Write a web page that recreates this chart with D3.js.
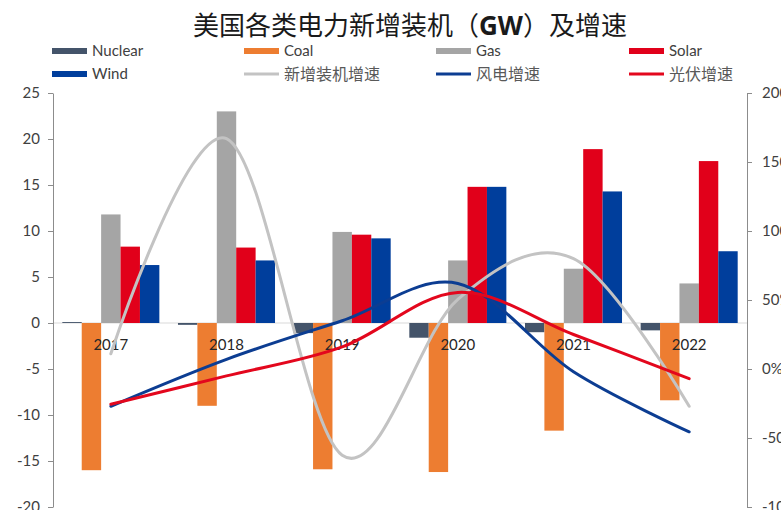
<!DOCTYPE html>
<html><head><meta charset="utf-8">
<script src="https://cdn.jsdelivr.net/npm/d3@7/dist/d3.min.js"></script>
<style>body{margin:0;background:#fff;overflow:hidden}</style>
</head><body>
<svg id="c" width="781" height="510"></svg>
<script>
const years = ["2017","2018","2019","2020","2021","2022"];
const barNames = ["Nuclear","Coal","Gas","Solar","Wind"];
const nuclear = [0.1,-0.2,-1.1,-1.6,-1.0,-0.8];
const coal = [-16.0,-9.0,-15.9,-16.2,-11.7,-8.4];
const gas = [11.8,23.0,9.9,6.8,5.9,4.3];
const solar = [8.3,8.2,9.6,14.8,18.9,17.6];
const wind = [6.3,6.8,9.2,14.8,14.3,7.8];
const lineNames = ["新增装机增速","风电增速","光伏增速"];
const totalGrowth = [11,167,-62.5,50.5,80,-27];
const windGrowth = [-27,7,35,62,-2,-45.5];
const solarGrowth = [-25.5,-5,16,55.5,25,-7];
const leftTicks = [25,20,15,10,5,0,-5,-10,-15,-20];
const rightTicks = [200,150,100,50,0,-50,-100];

const barColors = ["#44546A","#ED7D31","#A5A5A5","#E1001A","#003E9C"];
const lineColors = ["#C3C3C3","#0C3D92","#E3071D"];
const barData = [nuclear,coal,gas,solar,wind];
const lineData = [totalGrowth,windGrowth,solarGrowth];

const svg = d3.select("#c");
const L = 53, R = 747, T = 93, B = 507;
const yL = d3.scaleLinear().domain([-20,25]).range([B,T]);
const yR = d3.scaleLinear().domain([-100,200]).range([B,T]);
const x0 = d3.scaleBand().domain(years).range([L,R]).padding(0);
const x1 = d3.scaleBand().domain(barNames).range([0,x0.bandwidth()]).paddingInner(0).paddingOuter(0.48);
const latin = "Lato, 'Open Sans', sans-serif";
const cjk = "'Noto Sans CJK SC', sans-serif";

// title
const t = svg.append("text").attr("x",410).attr("y",35).attr("text-anchor","middle")
  .attr("font-family",cjk).attr("font-size",26).attr("font-weight",400).attr("fill","#1a1a1a");
t.append("tspan").text("美国各类电力新增装机（");
t.append("tspan").attr("font-weight",700).attr("font-family","'Open Sans', sans-serif").text("GW");
t.append("tspan").text("）及增速");

// legend
const cols = [52,244,436,629];
const legendItems = barNames.map((n,i)=>({name:n,type:"bar",color:barColors[i]}))
  .concat(lineNames.map((n,i)=>({name:n,type:"line",color:lineColors[i]})));
legendItems.forEach((d,i)=>{
  const cx = cols[i%4], cy = i<4 ? 51 : 74;
  const g = svg.append("g");
  if(d.type==="bar"){
    g.append("rect").attr("x",cx).attr("y",cy-3).attr("width",35).attr("height",6).attr("fill",d.color);
  } else {
    g.append("line").attr("x1",cx).attr("x2",cx+35).attr("y1",cy).attr("y2",cy)
      .attr("stroke",d.color).attr("stroke-width",3);
  }
  g.append("text").attr("x",cx+40).attr("y",cy).attr("dy","0.36em")
    .attr("font-family",d.type==="bar"?latin:cjk).attr("font-size",d.type==="bar"?15:16)
    .attr("fill",d.type==="bar"?"#404040":"#595959").text(d.name);
});

// zero line
svg.append("line").attr("x1",L).attr("x2",R).attr("y1",yL(0)).attr("y2",yL(0))
  .attr("stroke","#D9D9D9").attr("stroke-width",1);

// bars
barNames.forEach((n,si)=>{
  svg.append("g").selectAll("rect").data(barData[si]).join("rect")
    .attr("x",(v,i)=>x0(years[i])+x1(n))
    .attr("width",x1.bandwidth())
    .attr("y",v=>Math.min(yL(v),yL(0)))
    .attr("height",v=>Math.abs(yL(v)-yL(0)))
    .attr("fill",barColors[si]);
});

// category labels
svg.append("g").selectAll("text").data(years).join("text")
  .attr("x",d=>x0(d)+x0.bandwidth()/2).attr("y",yL(0)+27)
  .attr("text-anchor","middle").attr("font-family",latin).attr("font-size",15)
  .attr("fill","#262626").text(d=>d);

// lines
const line = d3.line().x((v,i)=>x0(years[i])+x0.bandwidth()/2).y(v=>yR(v)).curve(d3.curveCardinal.tension(0));
lineData.forEach((arr,i)=>{
  svg.append("path").datum(arr).attr("d",line).attr("fill","none")
    .attr("stroke",lineColors[i]).attr("stroke-width",3).attr("stroke-linecap","round");
});

// axes
const axL = svg.append("g").attr("transform",`translate(${L},0)`)
  .call(d3.axisLeft(yL).tickValues(leftTicks).tickSize(5).tickSizeOuter(0).tickPadding(8).tickFormat(d=>String(d)));
const axR = svg.append("g").attr("transform",`translate(${R},0)`)
  .call(d3.axisRight(yR).tickValues(rightTicks).tickSize(5).tickSizeOuter(0).tickPadding(10).tickFormat(d=>d+"%"));
[axL,axR].forEach(a=>{
  a.select(".domain").attr("stroke","#8C8C8C");
  a.selectAll(".tick line").attr("stroke","#8C8C8C");
  a.selectAll("text").attr("font-family",latin).attr("font-size",15).attr("fill","#404040");
});
</script>
</body></html>
